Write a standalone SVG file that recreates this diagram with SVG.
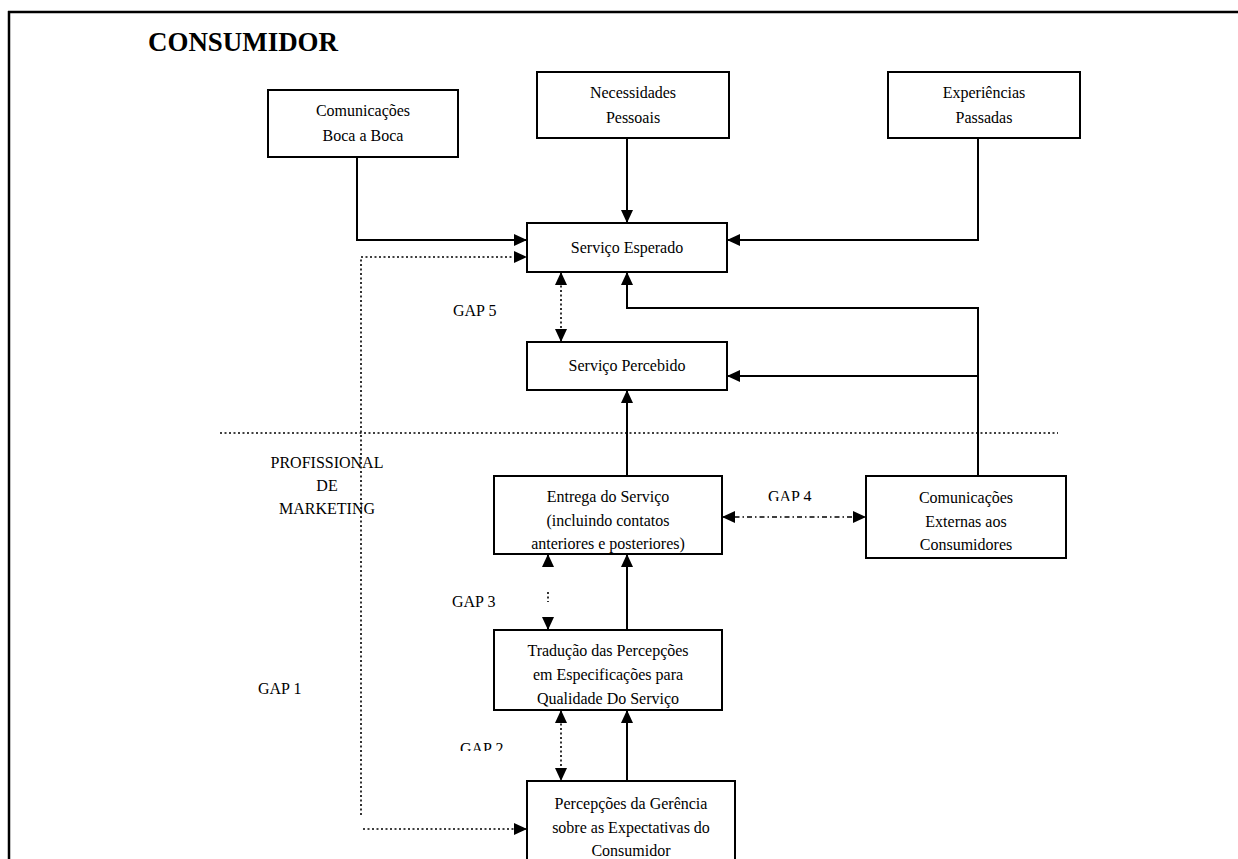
<svg xmlns="http://www.w3.org/2000/svg" width="1238" height="859" viewBox="0 0 1238 859">
<style>
.box{fill:#fff;stroke:#000;stroke-width:2}
.t{font-family:"Liberation Serif","Times New Roman",serif;font-size:16px;fill:#000;text-anchor:middle}
.lbl{font-family:"Liberation Serif","Times New Roman",serif;font-size:16px;fill:#000}
.c{fill:none;stroke:#000;stroke-width:2}
.d{fill:none;stroke:#000;stroke-width:1.6;stroke-dasharray:2 2.5}
.dd{fill:none;stroke:#000;stroke-width:1.6;stroke-dasharray:5 3 1.5 3}
</style>
<defs>
<marker id="ah" markerWidth="13" markerHeight="12" refX="13" refY="6" orient="auto" markerUnits="userSpaceOnUse">
<path d="M0,0 L13,6 L0,12 z" fill="#000"/>
</marker>
<marker id="as" markerWidth="13" markerHeight="12" refX="0" refY="6" orient="auto" markerUnits="userSpaceOnUse">
<path d="M13,0 L0,6 L13,12 z" fill="#000"/>
</marker>
<clipPath id="clipG4"><rect x="700" y="470" width="160" height="31"/></clipPath>
<clipPath id="clipG2"><rect x="440" y="720" width="100" height="31"/></clipPath>
</defs>
<rect width="1238" height="859" fill="#fff"/>
<g id="frame">
<line x1="8" y1="12" x2="1238" y2="12" stroke="#000" stroke-width="2.5"/>
<line x1="9" y1="11" x2="9" y2="859" stroke="#000" stroke-width="2.5"/>
</g>
<text x="148" y="51" font-family="Liberation Serif,'Times New Roman',serif" font-size="28" font-weight="bold" textLength="190" lengthAdjust="spacingAndGlyphs">CONSUMIDOR</text>
<line x1="220" y1="433" x2="1058" y2="433" class="d"/>
<g id="connectors">
<path class="c" d="M357,157 V240 H527" marker-end="url(#ah)"/>
<path class="c" d="M627,138 V223" marker-end="url(#ah)"/>
<path class="c" d="M978,138 V240 H727" marker-end="url(#ah)"/>
<path class="d" d="M361,815 V257 H527" marker-end="url(#ah)"/>
<path class="d" d="M363,829 H527" marker-end="url(#ah)"/>
<path class="d" d="M561,272 V342" marker-start="url(#as)" marker-end="url(#ah)"/>
<path class="c" d="M978,476 V308 H627 V272" marker-end="url(#ah)"/>
<path class="c" d="M978,376 H727" marker-end="url(#ah)"/>
<path class="c" d="M627,476 V390" marker-end="url(#ah)"/>
<path class="dd" d="M722,517 H866" marker-start="url(#as)" marker-end="url(#ah)"/>
<path class="c" d="M627,630 V554" marker-end="url(#ah)"/>
<path d="M548,567 L548,554" class="c" stroke="none" marker-end="url(#ah)"/>
<path class="d" d="M548,592 V602" stroke-dasharray="1.5 5"/>
<path d="M548,617 L548,630" class="c" stroke="none" marker-end="url(#ah)"/>
<path class="d" d="M561,710 V781" marker-start="url(#as)" marker-end="url(#ah)"/>
<path class="c" d="M627,781 V710" marker-end="url(#ah)"/>
</g>
<g id="n-boca">
<rect class="box" x="268" y="90" width="190" height="67"/>
<text class="t" x="363" y="116">Comunicações</text>
<text class="t" x="363" y="141">Boca a Boca</text>
</g>
<g id="n-necessidades">
<rect class="box" x="537" y="72" width="192" height="66"/>
<text class="t" x="633" y="98">Necessidades</text>
<text class="t" x="633" y="123">Pessoais</text>
</g>
<g id="n-experiencias">
<rect class="box" x="888" y="72" width="192" height="66"/>
<text class="t" x="984" y="98">Experiências</text>
<text class="t" x="984" y="123">Passadas</text>
</g>
<g id="n-esperado">
<rect class="box" x="527" y="223" width="200" height="49"/>
<text class="t" x="627" y="253">Serviço Esperado</text>
</g>
<g id="n-percebido">
<rect class="box" x="527" y="342" width="200" height="48"/>
<text class="t" x="627" y="371">Serviço Percebido</text>
</g>
<g id="n-entrega">
<rect class="box" x="494" y="476" width="228" height="78"/>
<text class="t" x="608" y="502">Entrega do Serviço</text>
<text class="t" x="608" y="526">(incluindo contatos</text>
<text class="t" x="608" y="549">anteriores e posteriores)</text>
</g>
<g id="n-externas">
<rect class="box" x="866" y="476" width="200" height="82"/>
<text class="t" x="966" y="503">Comunicações</text>
<text class="t" x="966" y="527">Externas aos</text>
<text class="t" x="966" y="550">Consumidores</text>
</g>
<g id="n-traducao">
<rect class="box" x="494" y="630" width="228" height="80"/>
<text class="t" x="608" y="656">Tradução das Percepções</text>
<text class="t" x="608" y="680">em Especificações para</text>
<text class="t" x="608" y="704">Qualidade Do Serviço</text>
</g>
<g id="n-gerencia">
<rect class="box" x="527" y="781" width="208" height="90"/>
<text class="t" x="631" y="809">Percepções da Gerência</text>
<text class="t" x="631" y="833">sobre as Expectativas do</text>
<text class="t" x="631" y="856">Consumidor</text>
</g>
<g id="labels">
<text class="t" x="327" y="468">PROFISSIONAL</text>
<text class="t" x="327" y="491">DE</text>
<text class="t" x="327" y="514">MARKETING</text>
<text class="lbl" x="453" y="316">GAP 5</text>
<text class="lbl" x="768" y="502" clip-path="url(#clipG4)">GAP 4</text>
<text class="lbl" x="452" y="607">GAP 3</text>
<text class="lbl" x="258" y="694">GAP 1</text>
<text class="lbl" x="460" y="754" clip-path="url(#clipG2)">GAP 2</text>
</g>
</svg>
